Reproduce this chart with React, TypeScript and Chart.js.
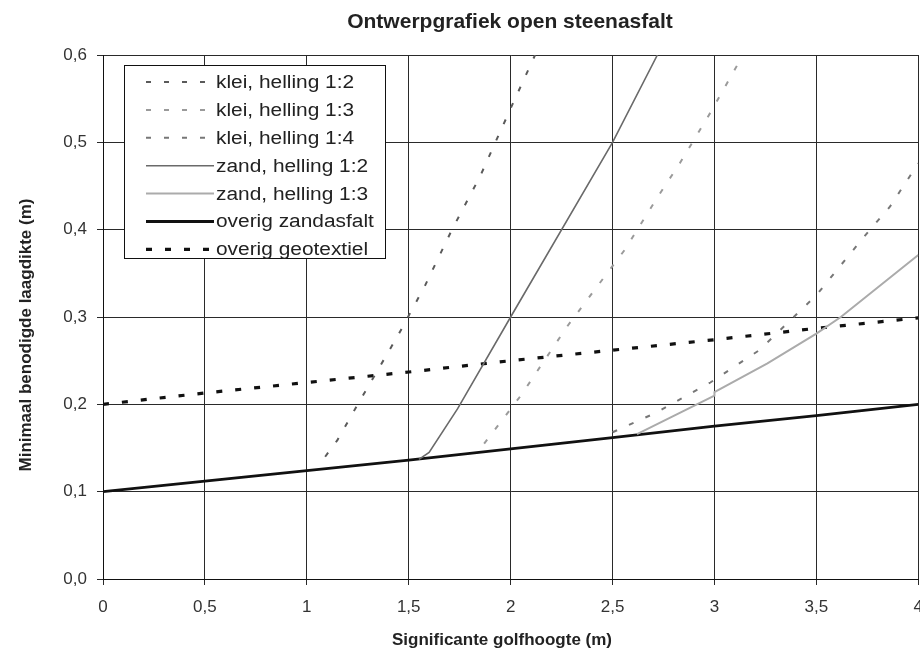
import React, { useEffect, useRef } from "react";
import { Chart, registerables } from "chart.js";

Chart.register(...registerables);

const TITLE = "Ontwerpgrafiek open steenasfalt";
const X_TITLE = "Significante golfhoogte (m)";
const Y_TITLE = "Minimaal benodigde laagdikte (m)";

const xTicks = [0, 0.5, 1, 1.5, 2, 2.5, 3, 3.5, 4];
const yTicks = [0, 0.1, 0.2, 0.3, 0.4, 0.5, 0.6];

const klei12X = [1.09, 1.15, 1.25, 1.45, 1.58, 1.71, 1.85, 2.01, 2.12];
const klei12Y = [0.14, 0.159, 0.2, 0.28, 0.336, 0.399, 0.461, 0.544, 0.6];

const klei13X = [1.87, 2.05, 2.28, 2.56, 2.72, 2.83, 2.98, 3.14];
const klei13Y = [0.155, 0.21, 0.29, 0.377, 0.437, 0.476, 0.534, 0.6];

const klei14X = [2.5, 2.71, 2.98, 3.22, 3.5, 3.745, 3.86, 4];
const klei14Y = [0.168, 0.19, 0.225, 0.262, 0.325, 0.395, 0.426, 0.476];

const zand12X = [1.55, 1.6, 1.74, 2.0, 2.5, 2.72];
const zand12Y = [0.137, 0.145, 0.195, 0.3, 0.5, 0.6];

const zand13X = [2.62, 3.0, 3.0, 3.26, 3.5, 3.62, 4.0];
const zand13Y = [0.166, 0.21, 0.214, 0.247, 0.281, 0.3, 0.371];

const zandasfaltX = [0, 0.5, 1, 1.5, 2, 2.5, 3, 3.5, 4];
const zandasfaltY = [0.1, 0.112, 0.124, 0.136, 0.149, 0.162, 0.175, 0.187, 0.2];

const geotextielX = [0, 0.5, 1, 1.5, 2, 2.5, 3, 3.5, 4];
const geotextielY = [0.2, 0.213, 0.225, 0.237, 0.25, 0.262, 0.274, 0.287, 0.299];

const pts = (xs: number[], ys: number[]) => xs.map((x, i) => ({ x, y: ys[i] }));

const FONT = '"Liberation Sans", Arial, sans-serif';

const textPlugin = {
  id: "texts",
  afterDraw(chart: any) {
    const ctx = chart.ctx;
    ctx.save();
    ctx.fillStyle = "#222";
    ctx.textAlign = "center";
    ctx.textBaseline = "middle";
    ctx.font = `bold 21px ${FONT}`;
    ctx.fillText(TITLE, 510, 22);
    ctx.font = `bold 17px ${FONT}`;
    ctx.fillText(X_TITLE, 502, 640);
    ctx.translate(26, 335);
    ctx.rotate(-Math.PI / 2);
    ctx.fillText(Y_TITLE, 0, 0);
    ctx.restore();
  },
};

const legendPlugin = {
  id: "boxLegend",
  afterDatasetsDraw(chart: any) {
    const ctx = chart.ctx;
    const x0 = 124, y0 = 65, w = 261, h = 193;
    ctx.save();
    ctx.fillStyle = "#fff";
    ctx.fillRect(x0, y0, w, h);
    ctx.strokeStyle = "#111";
    ctx.lineWidth = 1;
    ctx.setLineDash([]);
    ctx.strokeRect(x0 + 0.5, y0 + 0.5, w, h);
    chart.data.datasets.forEach((ds: any, i: number) => {
      const y = y0 + 17 + i * 27.9;
      ctx.strokeStyle = ds.borderColor;
      ctx.lineWidth = ds.borderWidth;
      ctx.setLineDash(ds.borderDash || []);
      ctx.beginPath();
      ctx.moveTo(146, y);
      ctx.lineTo(214, y);
      ctx.stroke();
      ctx.setLineDash([]);
      ctx.fillStyle = "#222";
      ctx.font = `18px ${FONT}`;
      ctx.textAlign = "left";
      ctx.textBaseline = "middle";
      ctx.save();
      ctx.translate(216, y + 1);
      ctx.scale(1.16, 1);
      ctx.fillText(ds.label, 0, 0);
      ctx.restore();
    });
    ctx.restore();
  },
};

export default function App() {
  const ref = useRef<HTMLCanvasElement | null>(null);
  useEffect(() => {
    if (!ref.current) return;
    const mk = (label: string, xs: number[], ys: number[], color: string, width: number, dash: number[]) => ({
      label,
      data: pts(xs, ys),
      borderColor: color,
      backgroundColor: color,
      borderWidth: width,
      borderDash: dash,
      showLine: true,
      pointRadius: 0,
      pointHoverRadius: 0,
      tension: 0,
      fill: false,
    });
    const chart = new Chart(ref.current, {
      type: "scatter",
      data: {
        datasets: [
          mk("klei, helling 1:2", klei12X, klei12Y, "#5a5a5a", 2, [5, 13]),
          mk("klei, helling 1:3", klei13X, klei13Y, "#9a9a9a", 2, [5, 13]),
          mk("klei, helling 1:4", klei14X, klei14Y, "#777", 2, [5, 13]),
          mk("zand, helling 1:2", zand12X, zand12Y, "#6a6a6a", 1.6, []),
          mk("zand, helling 1:3", zand13X, zand13Y, "#ababab", 2, []),
          mk("overig zandasfalt", zandasfaltX, zandasfaltY, "#111", 2.8, []),
          mk("overig geotextiel", geotextielX, geotextielY, "#111", 3.2, [6, 13]),
        ] as any,
      },
      options: {
        animation: false,
        responsive: false,
        events: [],
        layout: { padding: { top: 55, left: 0, right: 7, bottom: 0 } },
        plugins: {
          legend: { display: false },
          title: { display: false },
          tooltip: { enabled: false },
        },
        scales: {
          x: {
            type: "linear",
            min: 0,
            max: 4,
            afterFit: (s: any) => { s.height = 78; },
            afterBuildTicks: (s: any) => { s.ticks = xTicks.map((v) => ({ value: v })); },
            ticks: {
              font: { family: FONT, size: 17 },
              color: "#333",
              padding: 12,
              maxRotation: 0,
              autoSkip: false,
              callback: (v: any) => (Number.isInteger(v) ? String(v) : Number(v).toFixed(1).replace(".", ",")),
            },
            grid: { color: "#2a2a2a", lineWidth: 1, tickLength: 6, drawTicks: true },
            border: { display: true, color: "#111", width: 1 },
          },
          y: {
            type: "linear",
            min: 0,
            max: 0.6,
            afterFit: (s: any) => { s.width = 103; },
            afterBuildTicks: (s: any) => { s.ticks = yTicks.map((v) => ({ value: v })); },
            ticks: {
              font: { family: FONT, size: 17 },
              color: "#333",
              padding: 10,
              autoSkip: false,
              callback: (v: any) => Number(v).toFixed(1).replace(".", ","),
            },
            grid: { color: "#2a2a2a", lineWidth: 1, tickLength: 6, drawTicks: true },
            border: { display: true, color: "#111", width: 1 },
          },
        },
      } as any,
      plugins: [legendPlugin, textPlugin],
    });
    return () => chart.destroy();
  }, []);
  return (
    <div style={{ position: "fixed", left: 0, top: 0, width: 935, height: 657, background: "#fff" }}>
      <canvas ref={ref} width={935} height={657} style={{ display: "block" }} />
    </div>
  );
}
